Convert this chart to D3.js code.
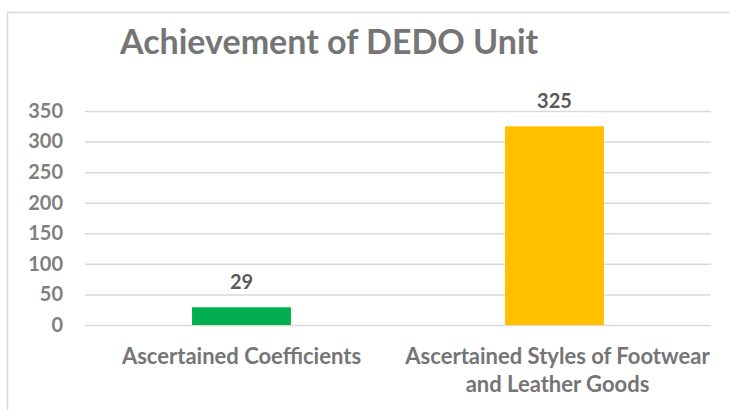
<!DOCTYPE html>
<html>
<head>
<meta charset="utf-8">
<script src="https://cdn.jsdelivr.net/npm/d3@7"></script>
<style>
  body { margin: 0; background: #fff; }
  text { font-family: Lato, "Open Sans", sans-serif; font-weight: bold; }
</style>
</head>
<body>
<div id="chart"></div>
<script>
// chart values
const categories = ["Ascertained Coefficients", "Ascertained Styles of Footwear and Leather Goods"];
const categoryLines = [["Ascertained Coefficients"], ["Ascertained Styles of Footwear", "and Leather Goods"]];
const values = [29, 325];
const barColors = ["#00B050", "#FFC000"];
const yTicks = [0, 50, 100, 150, 200, 250, 300, 350];
const title = "Achievement of DEDO Unit";

const W = 730, H = 410;
const margin = { top: 111, right: 19, bottom: 85, left: 85 };

const svg = d3.select("#chart").append("svg")
    .attr("width", W)
    .attr("height", H);

// outer chart border (runs off the picture on right and bottom)
svg.append("rect")
    .attr("x", 7.5).attr("y", 12.5)
    .attr("width", W).attr("height", H)
    .attr("fill", "none")
    .attr("stroke", "#d9d9d9")
    .attr("stroke-width", 1.5);

svg.append("text")
    .attr("x", 120)
    .attr("y", 54)
    .attr("font-size", 34)
    .attr("fill", "#757575")
    .text(title);

const x = d3.scaleBand()
    .domain(categories)
    .range([margin.left, W - margin.right])
    .paddingInner(0.684)
    .paddingOuter(0.342);

const y = d3.scaleLinear()
    .domain([0, 350])
    .range([H - margin.bottom, margin.top]);

// gridlines + tick labels
const yAxis = d3.axisLeft(y)
    .tickValues(yTicks)
    .tickSize(-(W - margin.left - margin.right))
    .tickPadding(22);

svg.append("g")
    .attr("class", "axis y-axis")
    .attr("transform", `translate(${margin.left},0)`)
    .call(yAxis)
    .call(g => g.select(".domain").remove())
    .call(g => g.selectAll(".tick line").attr("stroke", "#d9d9d9").attr("stroke-width", 1.5))
    .call(g => g.selectAll(".tick text")
        .attr("font-size", 20)
        .attr("fill", "#7f7f7f")
        .attr("font-family", "Lato, sans-serif")
        .attr("font-weight", "bold"));

// bars
svg.append("g")
    .selectAll("rect")
    .data(values)
    .join("rect")
    .attr("x", (d, i) => x(categories[i]))
    .attr("y", d => y(d))
    .attr("width", x.bandwidth())
    .attr("height", d => y(0) - y(d))
    .attr("fill", (d, i) => barColors[i]);

// data labels
svg.append("g")
    .selectAll("text")
    .data(values)
    .join("text")
    .attr("x", (d, i) => x(categories[i]) + x.bandwidth() / 2)
    .attr("y", d => y(d) - 18)
    .attr("text-anchor", "middle")
    .attr("font-size", 20)
    .attr("fill", "#595959")
    .text(d => d);

// category labels
const cat = svg.append("g")
    .selectAll("text")
    .data(categoryLines)
    .join("text")
    .attr("x", (d, i) => x(categories[i]) + x.bandwidth() / 2 + (i === 1 ? 3 : 0))
    .attr("y", y(0) + 39)
    .attr("text-anchor", "middle")
    .attr("font-size", 22)
    .attr("fill", "#757575");

cat.selectAll("tspan")
    .data(d => d)
    .join("tspan")
    .attr("x", function () { return d3.select(this.parentNode).attr("x"); })
    .attr("dy", (d, i) => i === 0 ? 0 : 28)
    .text(d => d);
</script>
</body>
</html>
